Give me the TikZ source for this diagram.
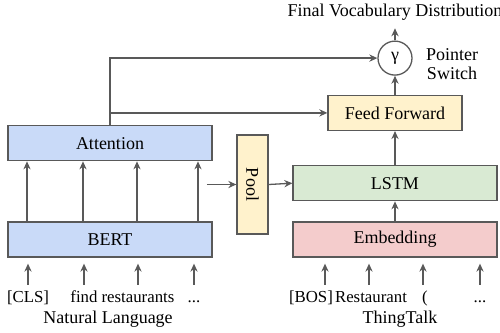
\documentclass[tikz,border=0pt]{standalone}
\usepackage{fontspec}
\setmainfont{Liberation Serif}
\usepackage{graphicx}
\usetikzlibrary{arrows.meta, positioning}

\definecolor{lineg}{HTML}{595959}
\definecolor{bertblue}{HTML}{C9DAF8}
\definecolor{ffyellow}{HTML}{FFF2CC}
\definecolor{lstmgreen}{HTML}{D9EAD3}
\definecolor{embred}{HTML}{F4CCCC}
\newcommand{\moredots}{...}

\begin{document}
\begin{tikzpicture}[
        x=0.5pt, y=-0.5pt,
        font=\fontsize{9}{10.5}\selectfont,
        box/.style={draw=lineg, line width=0.65pt, rectangle, minimum width=102pt, minimum height=17.5pt, inner sep=1pt, align=center},
        arrow/.style={->, >={Stealth[length=4pt, width=3.6pt]}, draw=lineg, line width=0.65pt},
        word/.style={inner sep=0pt, anchor=base, text height=7pt, text depth=2pt, font=\fontsize{8.4}{10}\selectfont}
    ]
        \useasboundingbox (0,0) rectangle (500,333);
        % encoder side
        \node[box, fill=bertblue] (bert) at (110,239.5) {BERT};
        \node[box, fill=bertblue, above=30pt of bert] (attn) {Attention};
        \node[box, fill=ffyellow, minimum width=15.5pt, minimum height=49.5pt, inner sep=0pt] (pool) at (252.5,184.5) {\rotatebox{-90}{Pool}};
        % decoder side
        \node[box, fill=embred] (embed) at (395,239.5) {Embedding};
        \node[box, fill=lstmgreen, above=10pt of embed] (lstm) {LSTM};
        \node[box, fill=ffyellow, minimum width=67pt, above=17pt of lstm] (ff) {Feed Forward};
        \node[draw=lineg, line width=0.65pt, circle, minimum size=17pt, inner sep=0pt, above=9.5pt of ff] (gate) {γ};
        \node[inner sep=0pt, anchor=base] (final) at (395,16) {Final Vocabulary Distribution};
        \node[align=center, inner sep=0pt] (switch) at (452,64) {Pointer\\[-1pt]Switch};
        % input words
        \foreach \i/\lx/\ax/\txt in {1/28/28/{[CLS]}, 2/84/84/find, 3/138/138/restaurants, 4/194/194/\moredots} {
            \node[word] (nl\i) at (\lx,302) {\txt};
            \draw[arrow, shorten <=1.5pt, shorten >=3pt] (nl\i.north -| \ax,0) -- (bert.south -| \ax,0);
        }
        \foreach \i/\lx/\ax/\txt in {1/311/325/{[BOS]}, 2/371/369/Restaurant, 3/425/423/(, 4/480/480/\moredots} {
            \node[word] (tt\i) at (\lx,302) {\txt};
            \draw[arrow, shorten <=1.5pt, shorten >=3pt] (tt\i.north -| \ax,0) -- (embed.south -| \ax,0);
        }
        \node[inner sep=0pt, anchor=base] (nlang) at (108,323) {Natural Language};
        \node[inner sep=0pt, anchor=base] (ttalk) at (400,323) {ThingTalk};
        % connectors
        \foreach \x in {27,83,137,198}
            \draw[arrow] (bert.north -| \x,0) -- (attn.south -| \x,0);
        \coordinate (poolin) at (207,184.5);
        \draw[arrow] (poolin) -- (pool.west);
        \draw[arrow] (pool.east) -- (lstm.west);
        \draw[arrow] (embed.north) -- (lstm.south);
        \draw[arrow] (lstm.north) -- (ff.south);
        \draw[arrow] (ff.north) -- (gate.south);
        \draw[arrow, shorten >=4pt] (gate.north) -- (final.south);
        \draw[arrow] (attn.north) -- (attn.north |- gate.west) -- (gate.west);
        \draw[arrow] (attn.north |- ff.west) -- (ff.west);
    \end{tikzpicture}
\end{document}
